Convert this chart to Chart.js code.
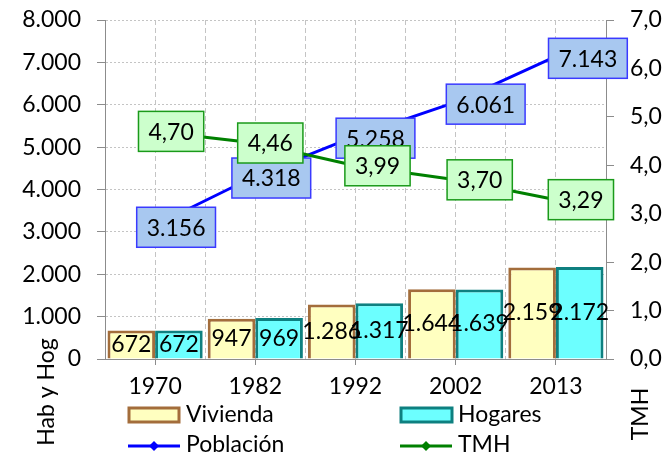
<!DOCTYPE html>
<html>
<head>
    <title>Vivienda, Hogares, Población y TMH</title>
    <script src="https://cdn.jsdelivr.net/npm/chart.js"></script>
    <style>
        body { margin: 0; background: #fff; }
        .chart-box { width: 662px; height: 456px; }
    </style>
</head>
<body>
    <div class="chart-box"><canvas id="chart"></canvas></div>

    <script>
    const years = ['1970', '1982', '1992', '2002', '2013'];
    const vivienda = [672, 947, 1286, 1644, 2159];
    const hogares = [672, 969, 1317, 1639, 2172];
    const poblacion = [3156, 4318, 5258, 6061, 7143];
    const tmh = [4.70, 4.46, 3.99, 3.70, 3.29];

    const leftMax = 8000, leftStep = 1000;
    const rightMax = 7, rightStep = 1;

    // label box nudges (px), to the right of the points like in the original
    const popShift = [21, 16, 20, 30, 32];
    const tmhShift = [16, 15, 22, 24, 25];

    const FONT = 'Lato, "Open Sans", sans-serif';
    const gridColor = '#c4c4c4';
    const axisColor = '#8c8c8c';

    function fmtThousands(v) {
        return Math.round(v).toString().replace(/\B(?=(\d{3})+(?!\d))/g, '.');
    }
    function fmtComma(v, d) {
        return v.toFixed(d).replace('.', ',');
    }

    function drawBox(ctx, text, cx, cy, fill, stroke) {
        ctx.font = '23px ' + FONT;
        const w = ctx.measureText(text).width + 20;
        const h = 40;
        ctx.fillStyle = fill;
        ctx.fillRect(cx - w / 2, cy - h / 2, w, h);
        ctx.strokeStyle = stroke;
        ctx.lineWidth = 1.5;
        ctx.strokeRect(cx - w / 2, cy - h / 2, w, h);
        ctx.fillStyle = '#000';
        ctx.textAlign = 'center';
        ctx.textBaseline = 'middle';
        ctx.fillText(text, cx, cy + 1);
    }

    const labelPlugin = {
        id: 'labels',
        afterDatasetsDraw(chart) {
            const ctx = chart.ctx;
            ctx.save();
            ctx.font = '23px ' + FONT;
            ctx.textAlign = 'center';
            ctx.textBaseline = 'middle';
            [2, 3].forEach(di => {
                chart.getDatasetMeta(di).data.forEach((bar, i) => {
                    const val = chart.data.datasets[di].data[i];
                    ctx.fillStyle = '#000';
                    ctx.fillText(fmtThousands(val), bar.x, (bar.y + bar.base) / 2);
                });
            });
            chart.getDatasetMeta(0).data.forEach((pt, i) => {
                drawBox(ctx, fmtThousands(poblacion[i]), pt.x + popShift[i], pt.y + 2, '#a8c8f0', '#3a3aff');
            });
            chart.getDatasetMeta(1).data.forEach((pt, i) => {
                drawBox(ctx, fmtComma(tmh[i], 2), pt.x + tmhShift[i], pt.y, '#ccffcc', '#1a9a1a');
            });
            ctx.restore();
        }
    };

    const legendPlugin = {
        id: 'legend2',
        afterDraw(chart) {
            const ctx = chart.ctx;
            ctx.save();
            ctx.font = '23px ' + FONT;
            ctx.textAlign = 'left';
            ctx.textBaseline = 'middle';

            // bar swatches
            ctx.lineWidth = 3;
            ctx.fillStyle = '#ffffc0'; ctx.strokeStyle = '#a36d3b';
            ctx.fillRect(129, 408, 50, 14); ctx.strokeRect(129, 408, 50, 14);
            ctx.fillStyle = '#6cffff'; ctx.strokeStyle = '#0e8080';
            ctx.fillRect(401, 408, 51, 14); ctx.strokeRect(401, 408, 51, 14);

            // line swatches with diamond marker
            [[128, '#0000ff'], [400, '#008000']].forEach(([x0, c]) => {
                ctx.strokeStyle = c; ctx.fillStyle = c; ctx.lineWidth = 3;
                ctx.beginPath(); ctx.moveTo(x0, 446); ctx.lineTo(x0 + 52, 446); ctx.stroke();
                ctx.beginPath();
                ctx.moveTo(x0 + 26, 441); ctx.lineTo(x0 + 31, 446);
                ctx.lineTo(x0 + 26, 451); ctx.lineTo(x0 + 21, 446);
                ctx.closePath(); ctx.fill();
            });

            ctx.fillStyle = '#000';
            ctx.fillText('Vivienda', 186, 415);
            ctx.fillText('Hogares', 458, 415);
            ctx.fillText('Población', 186, 445);
            ctx.fillText('TMH', 458, 445);

            // axis titles
            ctx.textAlign = 'center';
            ctx.save();
            ctx.translate(47, 392); ctx.rotate(-Math.PI / 2);
            ctx.fillText('Hab y Hog', 0, 0);
            ctx.restore();
            ctx.save();
            ctx.translate(641, 414); ctx.rotate(-Math.PI / 2);
            ctx.fillText('TMH', 0, 0);
            ctx.restore();
            ctx.restore();
        }
    };

    const tickFont = { family: FONT, size: 23 };

    new Chart(document.getElementById('chart'), {
        data: {
            labels: years,
            datasets: [
                {
                    type: 'line', label: 'Población', data: poblacion,
                    yAxisID: 'y', xAxisID: 'x',
                    borderColor: '#0000ff', backgroundColor: '#0000ff',
                    borderWidth: 3, pointStyle: 'rectRot', pointRadius: 4,
                    order: 1
                },
                {
                    type: 'line', label: 'TMH', data: tmh,
                    yAxisID: 'y2', xAxisID: 'x',
                    borderColor: '#008000', backgroundColor: '#008000',
                    borderWidth: 3, pointStyle: 'rectRot', pointRadius: 4,
                    order: 0
                },
                {
                    type: 'bar', label: 'Vivienda', data: vivienda,
                    yAxisID: 'y', xAxisID: 'x',
                    backgroundColor: '#ffffc0', borderColor: '#a36d3b', borderWidth: 3,
                    categoryPercentage: 0.95, barPercentage: 1.0,
                    order: 2
                },
                {
                    type: 'bar', label: 'Hogares', data: hogares,
                    yAxisID: 'y', xAxisID: 'x',
                    backgroundColor: '#6cffff', borderColor: '#0e8080', borderWidth: 3,
                    categoryPercentage: 0.95, barPercentage: 1.0,
                    order: 3
                }
            ]
        },
        options: {
            responsive: true,
            maintainAspectRatio: false,
            animation: false,
            layout: { padding: { top: 20, left: 0, right: 0, bottom: 0 } },
            plugins: { legend: { display: false }, tooltip: { enabled: false } },
            scales: {
                x: {
                    type: 'category', position: 'bottom', offset: true,
                    grid: { offset: false, color: gridColor, tickColor: axisColor, tickLength: 6, tickBorderDash: [] },
                    border: { color: axisColor, dash: [5, 3] },
                    ticks: { font: tickFont, color: '#000', padding: 8 },
                    afterFit: s => { s.height = 97; s.paddingLeft = 0; s.paddingRight = 0; }
                },
                // second category axis only for the gridlines between years
                xg: {
                    type: 'category', position: 'bottom', offset: true,
                    grid: { offset: true, color: gridColor, drawTicks: false },
                    border: { display: false, dash: [5, 3] },
                    ticks: { display: false },
                    afterFit: s => { s.height = 0; }
                },
                y: {
                    position: 'left', min: 0, max: leftMax,
                    ticks: { stepSize: leftStep, font: tickFont, color: '#000', padding: 16,
                             callback: v => fmtThousands(v) },
                    grid: { color: gridColor, tickColor: axisColor, tickLength: 8, tickBorderDash: [] },
                    border: { color: axisColor, dash: [2, 2] },
                    afterFit: s => { s.width = 105; s.paddingTop = 0; s.paddingBottom = 0; }
                },
                y2: {
                    position: 'right', min: 0, max: rightMax,
                    ticks: { stepSize: rightStep, font: tickFont, color: '#000', padding: 16,
                             callback: v => fmtComma(v, 1) },
                    grid: { drawOnChartArea: false, tickColor: axisColor, tickLength: 8 },
                    border: { color: axisColor },
                    afterFit: s => { s.width = 56; s.paddingTop = 0; s.paddingBottom = 0; }
                }
            }
        },
        plugins: [labelPlugin, legendPlugin]
    });
    </script>
</body>
</html>
